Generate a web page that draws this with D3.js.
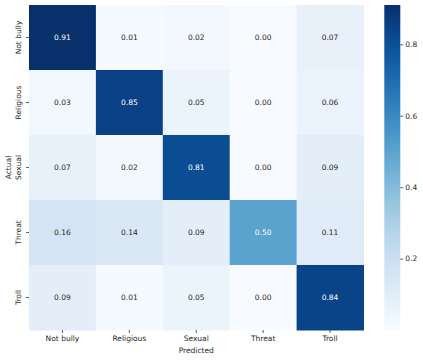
<!DOCTYPE html>
<html>
<head>
<meta charset="utf-8">
<script src="https://cdn.jsdelivr.net/npm/d3@7"></script>
<style>
  body { margin: 0; background: #fff; }
  svg { font-family: "DejaVu Sans", sans-serif; }
</style>
</head>
<body>
<svg id="chart" width="423" height="360"></svg>
<script>
// class names, same order on both axes
var labels = ["Not bully", "Religious", "Sexual", "Threat", "Troll"];
// one row per actual class
var rowNotBully  = [0.91, 0.01, 0.02, 0.00, 0.07];
var rowReligious = [0.03, 0.85, 0.05, 0.00, 0.06];
var rowSexual    = [0.07, 0.02, 0.81, 0.00, 0.09];
var rowThreat    = [0.16, 0.14, 0.09, 0.50, 0.11];
var rowTroll     = [0.09, 0.01, 0.05, 0.00, 0.84];
var barTicks = [0.2, 0.4, 0.6, 0.8];

var matrix = [rowNotBully, rowReligious, rowSexual, rowThreat, rowTroll];
var cells = [];
matrix.forEach((row, i) => row.forEach((v, j) => cells.push({actual: labels[i], pred: labels[j], value: v})));

var width = 423, height = 360;
var margin = {left: 29, top: 5, right: 59.5, bottom: 30};

var x = d3.scaleBand().domain(labels).range([margin.left, width - margin.right]);
var y = d3.scaleBand().domain(labels).range([margin.top, height - margin.bottom]);

var vmin = d3.min(cells, d => d.value), vmax = d3.max(cells, d => d.value);
var color = d3.scaleSequential(d3.interpolateBlues).domain([vmin, vmax]);

const svg = d3.select("#chart");

svg.append("g")
  .selectAll("rect")
  .data(cells)
  .join("rect")
  .attr("x", d => x(d.pred))
  .attr("y", d => y(d.actual))
  .attr("width", x.bandwidth() + 0.5)
  .attr("height", y.bandwidth() + 0.5)
  .attr("fill", d => color(d.value));

svg.append("g")
  .selectAll("text")
  .data(cells)
  .join("text")
  .attr("x", d => x(d.pred) + x.bandwidth() / 2)
  .attr("y", d => y(d.actual) + y.bandwidth() / 2)
  .attr("text-anchor", "middle")
  .attr("dy", "0.35em")
  .attr("font-size", "7.5px")
  .attr("fill", d => d.value >= 0.45 ? "#fff" : "#262626")
  .text(d => d.value.toFixed(2));

var drawAxis = (g, tx, ty, axis) =>
  g.attr("transform", `translate(${tx},${ty})`)
  .call(axis)
  .call(g => g.select(".domain").remove())
  .call(g => g.selectAll(".tick line").attr("stroke", "#333").attr("stroke-width", 0.8))
  .call(g => g.selectAll(".tick text").attr("fill", "#262626").attr("font-size", "7.5px").attr("font-family", "DejaVu Sans, sans-serif"));

svg.append("g").call(g => drawAxis(g, 0, height - margin.bottom, d3.axisBottom(x).tickSize(3).tickPadding(3)));

svg.append("g").call(g => drawAxis(g, margin.left, 0, d3.axisLeft(y).tickSize(3).tickPadding(2)))
  .call(g => g.selectAll(".tick text")
    .attr("text-anchor", "middle")
    .attr("x", 0).attr("dy", 0)
    .attr("transform", "translate(-8,0) rotate(-90)"));

svg.append("text")
  .attr("x", (margin.left + width - margin.right) / 2)
  .attr("y", 353)
  .attr("text-anchor", "middle")
  .attr("font-size", "7.5px")
  .attr("fill", "#262626")
  .text("Predicted");

svg.append("text")
  .attr("transform", `translate(11,${(margin.top + height - margin.bottom) / 2}) rotate(-90)`)
  .attr("text-anchor", "middle")
  .attr("font-size", "7.5px")
  .attr("fill", "#262626")
  .text("Actual");

// colour bar
var barX = 384.3, barW = 16;
var cb = d3.scaleLinear().domain([vmin, vmax]).range([height - margin.bottom, margin.top]);
var defs = svg.append("defs");
var grad = defs.append("linearGradient").attr("id", "cbar")
  .attr("x1", 0).attr("y1", 1).attr("x2", 0).attr("y2", 0);
d3.range(0, 1.0001, 0.05).forEach(t => grad.append("stop")
  .attr("offset", t)
  .attr("stop-color", color(vmin + t * (vmax - vmin))));
svg.append("rect")
  .attr("x", barX).attr("y", margin.top)
  .attr("width", barW).attr("height", height - margin.bottom - margin.top)
  .attr("fill", "url(#cbar)");

svg.append("g").call(g => drawAxis(g, barX + barW, 0, d3.axisRight(cb).tickValues(barTicks).tickSize(3).tickPadding(2).tickFormat(d3.format(".1f"))));
</script>
</body>
</html>
